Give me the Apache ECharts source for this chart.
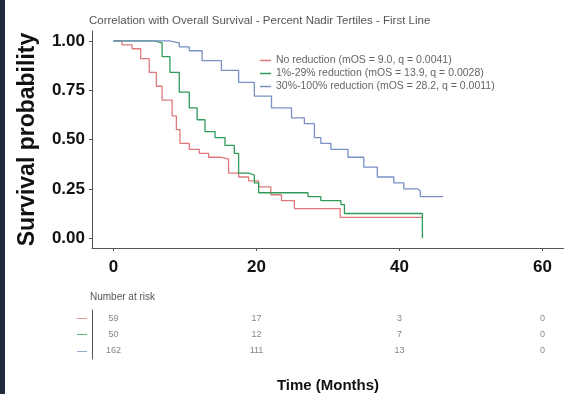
<!DOCTYPE html>
<html>
<head>
<meta charset="utf-8">
<script src="https://cdn.jsdelivr.net/npm/echarts@6/dist/echarts.min.js"></script>
<style>
  html, body { margin: 0; padding: 0; background: #fff; }
  #chart { width: 564px; height: 394px; }
  #edge { position: absolute; left: 0; top: 0; width: 5px; height: 394px; background: #1f2b3a; }
</style>
</head>
<body>
<div id="chart"></div>
<div id="edge"></div>
<script>
// x / y ticks
const timeTicks = [0, 20, 40, 60];
const survTicks = [0, 0.25, 0.5, 0.75, 1];

const groupNames = [
  'No reduction (mOS = 9.0, q = 0.0041)',
  '1%-29% reduction (mOS = 13.9, q = 0.0028)',
  '30%-100% reduction (mOS = 28.2, q = 0.0011)'
];

// Kaplan-Meier steps, [months, survival]
const noReduction = [
  [0, 1], [1.2, 0.98], [2.6, 0.96], [3.8, 0.91], [5.0, 0.84], [6.0, 0.77], [6.8, 0.70],
  [8.2, 0.62], [8.8, 0.55], [9.3, 0.48], [10.6, 0.45], [12.0, 0.43], [13.3, 0.41],
  [15.1, 0.40], [16.1, 0.33], [17.5, 0.31], [18.9, 0.29], [20.3, 0.26], [22.0, 0.22],
  [23.5, 0.19], [25.3, 0.15], [31.7, 0.105], [43.2, 0.105]
];
const reduction1to29 = [
  [0, 1], [5.4, 1], [5.7, 0.99], [6.8, 0.92], [7.9, 0.84], [9.2, 0.74], [10.6, 0.66],
  [11.7, 0.60], [12.8, 0.54], [14.2, 0.51], [15.6, 0.47], [16.9, 0.43], [17.5, 0.33],
  [18.9, 0.32], [19.7, 0.28], [20.3, 0.23], [23.5, 0.23], [27.2, 0.21], [29.0, 0.19],
  [31.8, 0.17], [32.3, 0.125], [43.2, 0.125], [43.2, 0]
];
const reduction30to100 = [
  [0, 1], [6.4, 1], [7.8, 0.99], [9.2, 0.97], [10.6, 0.95], [12.4, 0.90], [15.1, 0.85],
  [17.5, 0.79], [19.7, 0.72], [22.1, 0.66], [24.9, 0.61], [26.7, 0.58], [28.1, 0.51],
  [29.0, 0.48], [30.4, 0.45], [32.8, 0.41], [35.0, 0.36], [36.9, 0.31], [39.2, 0.28],
  [40.6, 0.25], [42.5, 0.24], [42.9, 0.21], [46.1, 0.21]
];

// number at risk table
const riskTimes = [0, 20, 40, 60];
const riskNoReduction = [59, 17, 3, 0];
const risk1to29 = [50, 12, 7, 0];
const risk30to100 = [162, 111, 13, 0];

const colors = ['#e0797c', '#2f9a5a', '#7890c4'];
const curves = [noReduction, reduction1to29, reduction30to100];
const riskRows = [riskNoReduction, risk1to29, risk30to100];

const riskData = [];
riskRows.forEach((row, r) => {
  row.forEach((n, i) => riskData.push([riskTimes[i], r, n]));
});

const chart = echarts.init(document.getElementById('chart'));

const option = {
  backgroundColor: '#fff',
  animation: false,
  title: [
    {
      text: 'Correlation with Overall Survival - Percent Nadir Tertiles - First Line',
      left: 84, top: 10,
      textStyle: { fontSize: 11.5, fontWeight: 'normal', color: '#555', fontFamily: 'Liberation Sans' }
    },
    {
      text: 'Number at risk',
      left: 85, top: 287,
      textStyle: { fontSize: 10, fontWeight: 'normal', color: '#555', fontFamily: 'Liberation Sans' }
    }
  ],
  legend: {
    orient: 'vertical',
    left: 255, top: 50,
    icon: 'rect',
    itemWidth: 11, itemHeight: 1.5,
    itemGap: 2,
    textStyle: { fontSize: 10.5, color: '#666', fontFamily: 'Liberation Sans' },
    data: groupNames
  },
  grid: [
    { left: 92, top: 31, width: 475, height: 217 },
    { left: 92, top: 310, width: 475, height: 49 }
  ],
  xAxis: [
    {
      type: 'value', gridIndex: 0, min: -3, max: 63,
      splitLine: { show: false },
      axisLine: { onZero: false, lineStyle: { color: '#555', width: 1 } },
      axisTick: { show: true, length: 3, customValues: timeTicks, lineStyle: { color: '#555' } },
      axisLabel: {
        customValues: timeTicks, margin: 11,
        fontSize: 17, fontWeight: 'bold', color: '#111', fontFamily: 'Liberation Sans'
      }
    },
    {
      type: 'value', gridIndex: 1, min: -3, max: 63,
      splitLine: { show: false },
      axisLine: { onZero: false, lineStyle: { color: '#555', width: 1 } },
      axisTick: { show: false },
      axisLabel: { show: false },
      name: 'Time (Months)', nameLocation: 'middle', nameGap: 19,
      nameTextStyle: { fontSize: 15, fontWeight: 'bold', color: '#111', fontFamily: 'Liberation Sans' }
    }
  ],
  yAxis: [
    {
      type: 'value', gridIndex: 0, min: -0.05, max: 1.05,
      splitLine: { show: false },
      axisLine: { show: true, onZero: false, lineStyle: { color: '#555', width: 1 } },
      axisTick: { show: true, length: 3, customValues: survTicks, lineStyle: { color: '#555' } },
      axisLabel: {
        customValues: survTicks, margin: 7,
        formatter: v => v.toFixed(2),
        fontSize: 17, fontWeight: 'bold', color: '#111', fontFamily: 'Liberation Sans'
      },
      name: 'Survival probability', nameLocation: 'middle', nameGap: 53,
      nameTextStyle: { fontSize: 23, fontWeight: 'bold', color: '#111', fontFamily: 'Liberation Sans' }
    },
    {
      type: 'category', gridIndex: 1, inverse: true,
      data: [0, 1, 2],
      axisLine: { show: true, onZero: false, lineStyle: { color: '#555', width: 1 } },
      axisTick: { show: false },
      axisLabel: {
        margin: 5,
        formatter: (v, i) => '{s' + i + '|\u2014}',
        rich: {
          s0: { color: colors[0], fontSize: 10 },
          s1: { color: colors[1], fontSize: 10 },
          s2: { color: colors[2], fontSize: 10 }
        }
      }
    }
  ],
  series: [
    ...curves.map((d, i) => ({
      name: groupNames[i],
      type: 'line',
      xAxisIndex: 0, yAxisIndex: 0,
      step: 'end',
      showSymbol: false,
      data: d,
      lineStyle: { color: colors[i], width: 1.3 },
      itemStyle: { color: colors[i] }
    })),
    {
      type: 'scatter',
      xAxisIndex: 1, yAxisIndex: 1,
      symbolSize: 0,
      data: riskData,
      label: {
        show: true, position: 'inside',
        formatter: p => p.value[2],
        fontSize: 9, color: '#666', fontFamily: 'Liberation Sans'
      }
    }
  ]
};

chart.setOption(option);
</script>
</body>
</html>
